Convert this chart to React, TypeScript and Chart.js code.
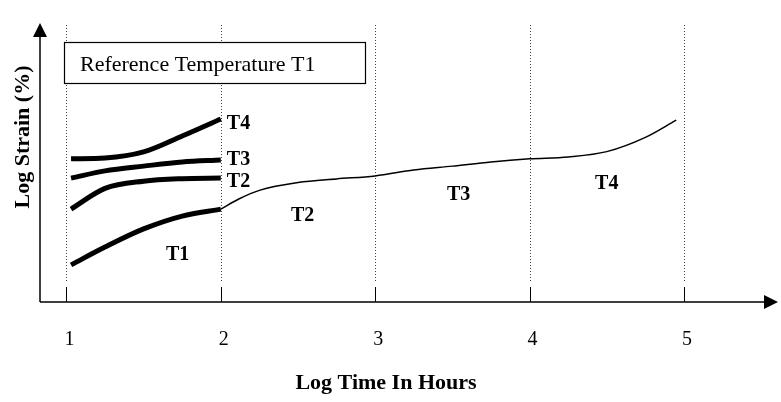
import React, { useEffect, useRef } from 'react';
import { Chart, registerables } from 'chart.js';

Chart.register(...registerables);

// ---- data ----
const xTicks = [1, 2, 3, 4, 5];
const tickLabels = ['1', '2', '3', '4', '5'];

const curveX = [1.03, 1.25, 1.5, 1.75, 2.0];
const curveT1 = [1.33, 1.97, 2.62, 3.08, 3.33];
const curveT2 = [3.33, 4.07, 4.33, 4.42, 4.44];
const curveT3 = [4.44, 4.70, 4.87, 5.02, 5.09];
const curveT4 = [5.13, 5.16, 5.38, 5.95, 6.56];

const masterX = [2, 2.12, 2.25, 2.5, 2.75, 3, 3.25, 3.5, 3.75, 4, 4.25, 4.5, 4.75, 4.95];
const masterY = [3.33, 3.7, 4.0, 4.28, 4.41, 4.52, 4.73, 4.87, 5.02, 5.13, 5.20, 5.39, 5.90, 6.52];

const endLabels = ['T2', 'T3', 'T4'];
const endLabelY = [4.3, 5.1, 6.4];

const regionLabels = ['T1', 'T2', 'T3', 'T4'];
const regionX = [1.72, 2.53, 3.54, 4.5];
const regionY = [1.68, 3.08, 3.83, 4.25];

const boxTitle = 'Reference Temperature T1';
const xTitle = 'Log Time In Hours';
const yTitle = 'Log Strain (%)';

const FONT = "'Liberation Serif', 'Times New Roman', serif";

const pts = (xs: number[], ys: number[]) => xs.map((x, i) => ({ x, y: ys[i] }));

const decor = {
  id: 'decor',
  beforeDatasetsDraw(chart: any) {
    const { ctx, chartArea, scales } = chart;
    const xs = scales.x;
    ctx.save();
    ctx.strokeStyle = '#444';
    ctx.lineWidth = 1;
    ctx.setLineDash([1, 2]);
    xTicks.forEach((v) => {
      const px = Math.round(xs.getPixelForValue(v)) + 0.5;
      ctx.beginPath();
      ctx.moveTo(px, chartArea.top + 2);
      ctx.lineTo(px, chartArea.bottom - 20);
      ctx.stroke();
    });
    ctx.setLineDash([]);
    ctx.strokeStyle = '#000';
    xTicks.forEach((v) => {
      const px = Math.round(xs.getPixelForValue(v)) + 0.5;
      ctx.beginPath();
      ctx.moveTo(px, chartArea.bottom - 15);
      ctx.lineTo(px, chartArea.bottom);
      ctx.stroke();
    });
    ctx.restore();
  },
  afterDatasetsDraw(chart: any) {
    const { ctx, chartArea, scales } = chart;
    const xs = scales.x;
    const ys = scales.y;
    const L = chartArea.left;
    const B = chartArea.bottom;
    const T = chartArea.top;
    const R = chartArea.right;
    ctx.save();
    ctx.strokeStyle = '#000';
    ctx.fillStyle = '#000';
    ctx.lineWidth = 1.5;
    ctx.beginPath();
    ctx.moveTo(L, B);
    ctx.lineTo(L, T + 12);
    ctx.moveTo(L, B);
    ctx.lineTo(R - 12, B);
    ctx.stroke();
    ctx.beginPath();
    ctx.moveTo(L, T);
    ctx.lineTo(L - 7, T + 14);
    ctx.lineTo(L + 7, T + 14);
    ctx.closePath();
    ctx.fill();
    ctx.beginPath();
    ctx.moveTo(R, B);
    ctx.lineTo(R - 14, B - 7);
    ctx.lineTo(R - 14, B + 7);
    ctx.closePath();
    ctx.fill();

    ctx.lineWidth = 1.2;
    ctx.fillStyle = '#fff';
    ctx.fillRect(L + 24, T + 19, 301, 41);
    ctx.strokeRect(L + 24.5, T + 19.5, 301, 41);
    ctx.fillStyle = '#000';
    ctx.font = `22px ${FONT}`;
    ctx.textAlign = 'left';
    ctx.textBaseline = 'alphabetic';
    ctx.fillText(boxTitle, L + 40, T + 48);

    ctx.font = `bold 20px ${FONT}`;
    ctx.textBaseline = 'middle';
    endLabels.forEach((t, i) => {
      ctx.fillText(t, xs.getPixelForValue(2) + 6, ys.getPixelForValue(endLabelY[i]));
    });
    ctx.textAlign = 'center';
    regionLabels.forEach((t, i) => {
      ctx.fillText(t, xs.getPixelForValue(regionX[i]), ys.getPixelForValue(regionY[i]));
    });

    ctx.font = `20px ${FONT}`;
    xTicks.forEach((v, i) => {
      ctx.fillText(tickLabels[i], xs.getPixelForValue(v) + 3, B + 38);
    });

    ctx.font = `bold 22px ${FONT}`;
    ctx.fillText(xTitle, 386, B + 81);
    ctx.translate(23, 137);
    ctx.rotate(-Math.PI / 2);
    ctx.fillText(yTitle, 0, 0);
    ctx.restore();
  },
};

export default function App() {
  const ref = useRef<HTMLCanvasElement>(null);
  useEffect(() => {
    document.body.style.margin = '0';
    const thick = (data: any) => ({
      data,
      borderColor: '#000',
      borderWidth: 5,
      borderCapStyle: 'butt',
      cubicInterpolationMode: 'monotone',
      pointRadius: 0,
      fill: false,
    });
    const chart = new Chart(ref.current as HTMLCanvasElement, {
      type: 'line',
      data: {
        datasets: [
          thick(pts(curveX, curveT1)),
          thick(pts(curveX, curveT2)),
          thick(pts(curveX, curveT3)),
          thick(pts(curveX, curveT4)),
          {
            data: pts(masterX, masterY),
            borderColor: '#000',
            borderWidth: 1.5,
            cubicInterpolationMode: 'monotone',
            pointRadius: 0,
            fill: false,
          },
        ] as any,
      },
      options: {
        responsive: false,
        animation: false,
        events: [],
        layout: { padding: { left: 40, right: 3, top: 23, bottom: 100 } },
        plugins: { legend: { display: false }, tooltip: { enabled: false } },
        scales: {
          x: { type: 'linear', display: false, min: 0.829, max: 5.609 },
          y: { type: 'linear', display: false, min: 0, max: 10 },
        },
      } as any,
      plugins: [decor],
    });
    return () => chart.destroy();
  }, []);
  return <canvas ref={ref} width={781} height={402} style={{ display: 'block' }} />;
}
